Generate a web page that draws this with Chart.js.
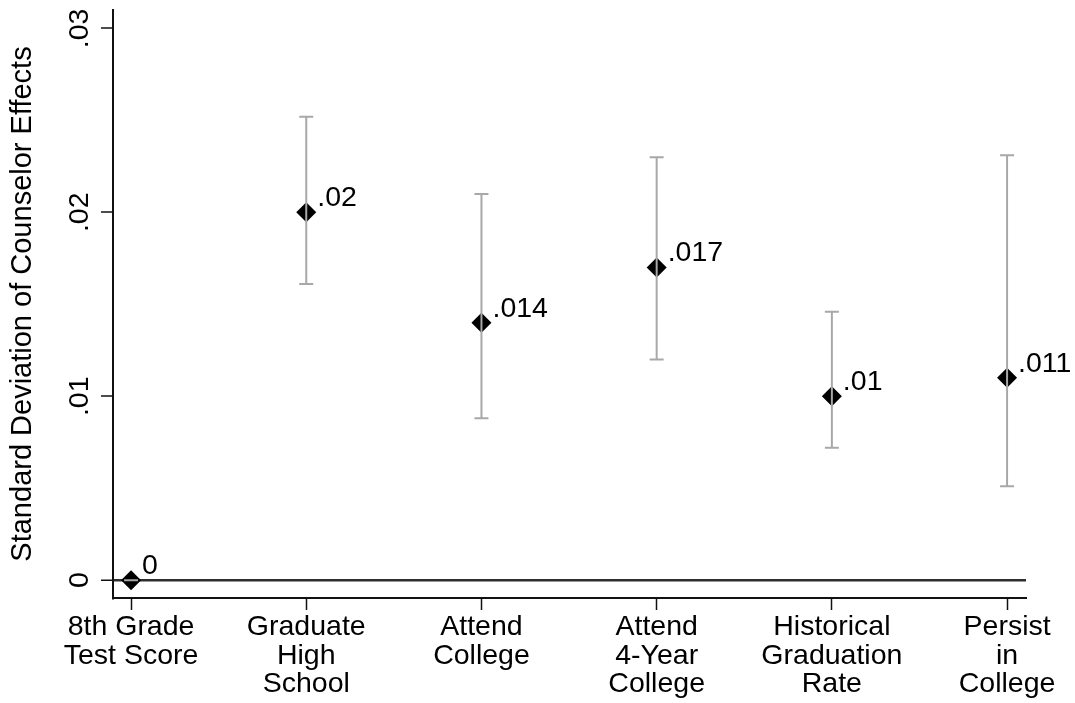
<!DOCTYPE html>
<html>
<head>
<meta charset="utf-8">
<script src="https://cdn.jsdelivr.net/npm/chart.js@4/dist/chart.umd.min.js"></script>
<style>
  html, body { margin: 0; padding: 0; background: #fff; }
  canvas { display: block; }
</style>
</head>
<body>
<canvas id="chart" width="1075" height="703"></canvas>
<script>
// Outcomes (multi-line category labels)
const outcomes = [
  ['8th Grade', 'Test Score'],
  ['Graduate', 'High', 'School'],
  ['Attend', 'College'],
  ['Attend', '4-Year', 'College'],
  ['Historical', 'Graduation', 'Rate'],
  ['Persist', 'in', 'College']
];

// Estimated SD of counselor effects and confidence bounds
const sdEstimates = [0, 0.020, 0.014, 0.017, 0.010, 0.011];
const ciLower     = [0, 0.0161, 0.0088, 0.0120, 0.0072, 0.0051];
const ciUpper     = [0, 0.0252, 0.0210, 0.0230, 0.0146, 0.0231];

// Y axis ticks
const yTickValues = [0, 0.01, 0.02, 0.03];
const yTickLabels = ['0', '.01', '.02', '.03'];

const yAxisTitle = 'Standard Deviation of Counselor Effects';

const FONT_FAMILY = '"Liberation Sans", Arial, Helvetica, sans-serif';
const FONT_SIZE = 28.5;
const TITLE_SIZE = 29;

// Stata-style number formatting: drop the leading zero
function fmt(v) {
  if (v === 0) return '0';
  return String(+v.toFixed(3)).replace(/^0\./, '.');
}

const overlay = {
  id: 'overlay',
  afterDatasetsDraw(chart) {
    const { ctx, scales: { x, y } } = chart;
    ctx.save();
    // capped confidence intervals
    ctx.strokeStyle = '#a8a8a8';
    ctx.lineWidth = 2;
    ctx.lineCap = 'butt';
    const cap = 7;
    sdEstimates.forEach((v, i) => {
      const px = x.getPixelForValue(i);
      const lo = y.getPixelForValue(ciLower[i]);
      const hi = y.getPixelForValue(ciUpper[i]);
      ctx.beginPath();
      ctx.moveTo(px, lo); ctx.lineTo(px, hi);
      ctx.moveTo(px - cap, lo); ctx.lineTo(px + cap, lo);
      ctx.moveTo(px - cap, hi); ctx.lineTo(px + cap, hi);
      ctx.stroke();
    });
    // value labels beside each marker
    ctx.fillStyle = '#000';
    ctx.font = FONT_SIZE + 'px ' + FONT_FAMILY;
    ctx.textAlign = 'left';
    ctx.textBaseline = 'alphabetic';
    sdEstimates.forEach((v, i) => {
      ctx.fillText(fmt(v), x.getPixelForValue(i) + 11, y.getPixelForValue(v) - 6);
    });
    ctx.restore();
  },
  afterDraw(chart) {
    // vertical tick labels on the y axis
    const { ctx, scales: { y } } = chart;
    ctx.save();
    ctx.fillStyle = '#000';
    ctx.font = FONT_SIZE + 'px ' + FONT_FAMILY;
    ctx.textAlign = 'center';
    ctx.textBaseline = 'alphabetic';
    yTickValues.forEach((v, i) => {
      ctx.save();
      ctx.translate(y.right - 25, y.getPixelForValue(v));
      ctx.rotate(-Math.PI / 2);
      ctx.fillText(yTickLabels[i], 0, 0);
      ctx.restore();
    });
    ctx.restore();
  }
};

new Chart(document.getElementById('chart'), {
  type: 'scatter',
  data: {
    datasets: [{
      data: sdEstimates.map((v, i) => ({ x: i, y: v })),
      pointStyle: 'rectRot',
      pointRadius: 10,
      pointHoverRadius: 10,
      backgroundColor: '#000',
      borderColor: '#000',
      borderWidth: 0
    }]
  },
  options: {
    responsive: false,
    animation: false,
    devicePixelRatio: 1,
    events: [],
    layout: { padding: { top: 8, right: 49, left: 0, bottom: 0 } },
    plugins: { legend: { display: false }, tooltip: { enabled: false } },
    scales: {
      x: {
        type: 'linear',
        min: -0.103,
        max: 5.108,
        afterBuildTicks: s => { s.ticks = outcomes.map((_, i) => ({ value: i })); },
        afterFit: s => { s.height = 105; },
        border: { display: true, color: '#111', width: 2 },
        grid: { drawOnChartArea: false, drawTicks: true, tickLength: 12, tickWidth: 1.5, tickColor: '#111' },
        ticks: {
          callback: v => outcomes[Math.round(v)],
          font: { family: FONT_FAMILY, size: FONT_SIZE, lineHeight: 1.0 },
          color: '#000',
          padding: 3,
          maxRotation: 0,
          minRotation: 0,
          autoSkip: false
        }
      },
      y: {
        type: 'linear',
        min: -0.00097,
        max: 0.031,
        afterBuildTicks: s => { s.ticks = yTickValues.map(v => ({ value: v })); },
        afterFit: s => { s.width = 113; },
        border: { display: true, color: '#111', width: 2 },
        grid: {
          drawOnChartArea: true,
          drawTicks: true,
          tickLength: 12,
          tickWidth: 1.5,
          tickColor: '#111',
          color: c => (c.tick && c.tick.value === 0) ? '#2e2e2e' : 'rgba(0,0,0,0)',
          lineWidth: c => (c.tick && c.tick.value === 0) ? 2.5 : 0
        },
        ticks: { display: false },
        title: {
          display: true,
          text: yAxisTitle,
          color: '#000',
          font: { family: FONT_FAMILY, size: TITLE_SIZE, lineHeight: 1.2 },
          padding: { top: 6, bottom: 0 }
        }
      }
    }
  },
  plugins: [overlay]
});
</script>
</body>
</html>
